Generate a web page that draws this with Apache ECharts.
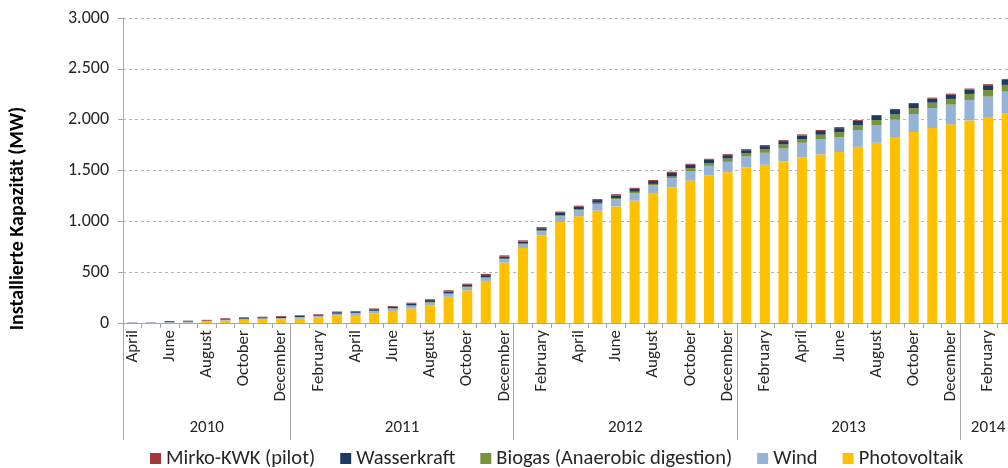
<!DOCTYPE html>
<html>
<head>
<meta charset="utf-8">
<script src="https://cdn.jsdelivr.net/npm/echarts@6/dist/echarts.min.js"></script>
<style>
  html, body { margin: 0; padding: 0; background: #ffffff; }
  #chart { width: 1008px; height: 468px; }
</style>
</head>
<body>
<div id="chart"></div>
<script>
// Monthly categories, April 2010 – March 2014
const categories = [
  'April','May','June','July','August','September','October','November','December',
  'January','February','March','April','May','June','July','August','September','October','November','December',
  'January','February','March','April','May','June','July','August','September','October','November','December',
  'January','February','March','April','May','June','July','August','September','October','November','December',
  'January','February','March'
];
const categoryYears = [
  '2010','2010','2010','2010','2010','2010','2010','2010','2010',
  '2011','2011','2011','2011','2011','2011','2011','2011','2011','2011','2011','2011',
  '2012','2012','2012','2012','2012','2012','2012','2012','2012','2012','2012','2012',
  '2013','2013','2013','2013','2013','2013','2013','2013','2013','2013','2013','2013',
  '2014','2014','2014'
];

// Installed capacity per technology (MW)
const photovoltaik = [
  0, 0, 1, 4, 12, 23, 30, 33, 36,
  43, 56, 76, 79, 96, 119, 142, 175, 258, 321, 414, 594,
  738, 864, 993, 1049, 1105, 1147, 1203, 1273, 1336, 1401, 1454, 1483,
  1533, 1556, 1589, 1628, 1658, 1681, 1733, 1773, 1822, 1878, 1917, 1954,
  1993, 2026, 2059
];
const wind = [
  7, 7, 8, 8, 6, 8, 9, 10, 10,
  12, 13, 13, 18, 21, 22, 26, 26, 28, 30, 30, 32,
  35, 40, 56, 59, 65, 69, 72, 82, 88, 89, 92, 102,
  105, 118, 128, 145, 148, 148, 165, 171, 178, 178, 198, 194,
  201, 201, 217
];
const biogas = [
  0, 0, 1, 2, 2, 2, 3, 3, 3,
  4, 3, 3, 3, 3, 5, 6, 6, 6, 7, 7, 7,
  8, 8, 13, 13, 13, 13, 16, 13, 17, 33, 26, 33,
  30, 36, 39, 36, 46, 49, 49, 52, 52, 56, 52, 56,
  59, 65, 66
];
const wasserkraft = [
  0, 0, 8, 8, 3, 9, 10, 10, 11,
  12, 10, 14, 12, 15, 14, 18, 18, 18, 18, 20, 20,
  20, 20, 26, 23, 26, 26, 29, 29, 36, 33, 33, 33,
  32, 30, 33, 36, 36, 39, 40, 40, 43, 42, 40, 42,
  43, 47, 49
];
const mirkoKwk = [
  1, 1, 1, 1, 8, 6, 6, 6, 8,
  6, 6, 7, 6, 8, 7, 8, 9, 12, 11, 12, 12,
  12, 11, 8, 10, 10, 12, 10, 10, 11, 10, 10, 10,
  10, 10, 10, 10, 10, 10, 9, 10, 10, 10, 10, 10,
  10, 10, 10
];

const yTicks = [0, 500, 1000, 1500, 2000, 2500, 3000];

// Year groups: first index, end index and centre of each run of equal years
const yearGroups = [];
categoryYears.forEach((y, i) => {
  const last = yearGroups[yearGroups.length - 1];
  if (last && last.year === y) { last.end = i + 1; }
  else { yearGroups.push({ year: y, start: i, end: i + 1 }); }
});
const yearAtCentre = {};
yearGroups.forEach(g => { yearAtCentre[g.start + g.end] = g.year; });
const groupStarts = new Set(yearGroups.map(g => g.start));

const FONT = 'Carlito, Lato, "Open Sans", sans-serif';
const axisGrey = '#a6a6a6';
const textColor = '#262626';

const chart = echarts.init(document.getElementById('chart'), null, { renderer: 'canvas' });

const seriesDefs = [
  { name: 'Photovoltaik', data: photovoltaik, color: '#ffc000' },
  { name: 'Wind', data: wind, color: '#95b3d7' },
  { name: 'Biogas (Anaerobic digestion)', data: biogas, color: '#77933c' },
  { name: 'Wasserkraft', data: wasserkraft, color: '#1f3a5f' },
  { name: 'Mirko-KWK (pilot)', data: mirkoKwk, color: '#a0393a' }
];

chart.setOption({
  animation: false,
  backgroundColor: '#ffffff',
  textStyle: { fontFamily: FONT },
  grid: { left: 123, top: 18, width: 893, bottom: 145, containLabel: false, outerBoundsMode: 'none' },
  legend: {
    bottom: -6,
    left: 145,
    icon: 'rect',
    itemWidth: 11,
    itemHeight: 11,
    itemGap: 25,
    textStyle: { fontFamily: FONT, fontSize: 20.5, color: textColor },
    data: ['Mirko-KWK (pilot)', 'Wasserkraft', 'Biogas (Anaerobic digestion)', 'Wind', 'Photovoltaik']
  },
  xAxis: [
    {
      type: 'category',
      data: categories,
      position: 'bottom',
      axisLine: { lineStyle: { color: axisGrey, width: 1 } },
      axisTick: { show: true, interval: 0, length: 5, lineStyle: { color: axisGrey } },
      axisLabel: {
        interval: 1,
        rotate: 90,
        margin: 7,
        fontSize: 17,
        color: textColor,
        fontFamily: FONT
      },
      splitLine: { show: false }
    },
    {
      // year separators
      type: 'category',
      data: categories,
      position: 'bottom',
      axisLine: { show: false },
      axisTick: {
        show: true,
        interval: (i) => groupStarts.has(i),
        length: 117,
        lineStyle: { color: axisGrey }
      },
      axisLabel: { show: false },
      splitLine: { show: false }
    },
    {
      // year labels, centred under each group
      type: 'value',
      min: 0,
      max: categories.length,
      interval: 0.5,
      position: 'bottom',
      axisLine: { show: false },
      axisTick: { show: false },
      splitLine: { show: false },
      axisLabel: {
        margin: 96,
        fontSize: 17,
        color: textColor,
        fontFamily: FONT,
        showMinLabel: true,
        showMaxLabel: true,
        formatter: (v) => yearAtCentre[Math.round(v * 2)] || ''
      }
    }
  ],
  yAxis: {
    type: 'value',
    min: yTicks[0],
    max: yTicks[yTicks.length - 1],
    interval: 500,
    name: 'Installierte Kapazität (MW)',
    nameLocation: 'middle',
    nameGap: 95,
    nameTextStyle: {
      fontFamily: FONT, fontSize: 20, fontWeight: 'bold', color: '#000000',
      padding: [0, 96, 0, 0]
    },
    axisLine: { show: true, lineStyle: { color: axisGrey } },
    axisTick: { show: true, length: 5, lineStyle: { color: axisGrey } },
    axisLabel: {
      margin: 14,
      fontSize: 18,
      color: textColor,
      fontFamily: FONT,
      formatter: (v) => v.toLocaleString('de-DE')
    },
    splitLine: { show: true, lineStyle: { color: '#b3b3b3', type: [3, 3], width: 1 } }
  },
  series: seriesDefs.map(s => ({
    name: s.name,
    type: 'bar',
    stack: 'total',
    xAxisIndex: 0,
    barWidth: '54%',
    data: s.data,
    itemStyle: { color: s.color }
  }))
});
</script>
</body>
</html>
